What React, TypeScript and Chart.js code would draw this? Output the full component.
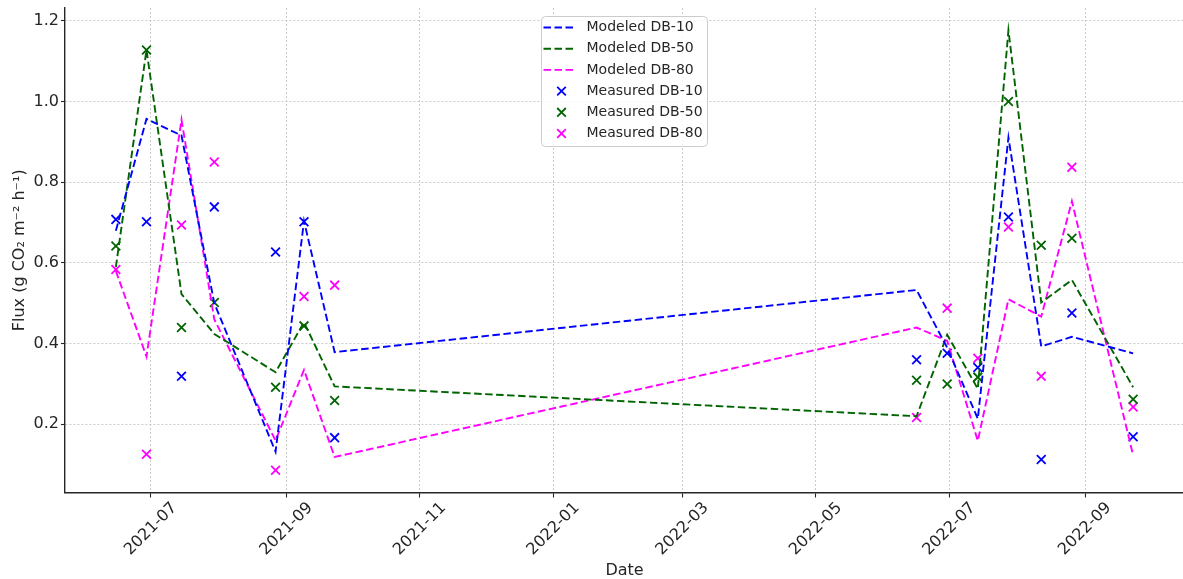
import React, { useEffect, useRef } from "react";
import { Chart, registerables } from "chart.js";

Chart.register(...registerables);

// Sampling campaigns (two summers)
const sampleDates = [
  "2021-06-15", "2021-06-29", "2021-07-15", "2021-07-30", "2021-08-27", "2021-09-09", "2021-09-23",
  "2022-06-16", "2022-06-30", "2022-07-14", "2022-07-28", "2022-08-12", "2022-08-26", "2022-09-23",
];

// Modeled fluxes (g CO2 m-2 h-1)
const modeledDB10 = [0.68, 0.957, 0.916, 0.5, 0.132, 0.704, 0.379, 0.533, 0.39, 0.214, 0.911, 0.393, 0.417, 0.376];
const modeledDB50 = [0.59, 1.128, 0.523, 0.424, 0.329, 0.453, 0.294, 0.22, 0.422, 0.288, 1.177, 0.502, 0.558, 0.292];
const modeledDB80 = [0.58, 0.368, 0.955, 0.46, 0.16, 0.335, 0.119, 0.44, 0.407, 0.159, 0.51, 0.467, 0.753, 0.123];

// Measured fluxes (g CO2 m-2 h-1)
const measuredDB10 = [0.708, 0.702, 0.319, 0.739, 0.627, 0.702, 0.167, 0.36, 0.376, 0.341, 0.714, 0.113, 0.476, 0.169];
const measuredDB50 = [0.642, 1.128, 0.44, 0.502, 0.292, 0.444, 0.259, 0.309, 0.3, 0.317, 1.0, 0.644, 0.661, 0.262];
const measuredDB80 = [0.584, 0.126, 0.694, 0.85, 0.086, 0.517, 0.545, 0.217, 0.488, 0.364, 0.689, 0.319, 0.837, 0.243];

// Axis ticks
const xTickLabels = ["2021-07", "2021-09", "2021-11", "2022-01", "2022-03", "2022-05", "2022-07", "2022-09"];
const yTickValues = [0.2, 0.4, 0.6, 0.8, 1.0, 1.2];

const FONT = "'DejaVu Sans', 'Liberation Sans', sans-serif";
const INK = "#262626";
const ORIGIN = Date.UTC(2021, 6, 1);

// Days since 2021-07-01
const dayOf = (s: string): number => {
  const [y, m, d] = s.split("-").map(Number);
  return (Date.UTC(y, m - 1, d || 1) - ORIGIN) / 86400000;
};

const xDays = sampleDates.map(dayOf);
const xSpan = Math.max(...xDays) - Math.min(...xDays);
const xMin = Math.min(...xDays) - 0.05 * xSpan;
const xMax = Math.max(...xDays) + 0.05 * xSpan;
const yMin = 0.031;
const yMax = 1.232;

const modeled = [
  { label: "Modeled DB-10", values: modeledDB10, color: "#0000ff" },
  { label: "Modeled DB-50", values: modeledDB50, color: "#006400" },
  { label: "Modeled DB-80", values: modeledDB80, color: "#ff00ff" },
];
const measured = [
  { label: "Measured DB-10", values: measuredDB10, color: "#0000ff" },
  { label: "Measured DB-50", values: measuredDB50, color: "#006400" },
  { label: "Measured DB-80", values: measuredDB80, color: "#ff00ff" },
];

const DASH = [7.5, 3.5];

// Rotated date labels, centred under each tick
const rotatedXLabels = {
  id: "rotatedXLabels",
  afterDraw(chart: any) {
    const xs = chart.scales.x;
    const ctx = chart.ctx as CanvasRenderingContext2D;
    const cy = chart.chartArea.bottom + 36.5;
    ctx.save();
    ctx.font = `16px ${FONT}`;
    ctx.fillStyle = INK;
    ctx.textAlign = "center";
    ctx.textBaseline = "middle";
    xTickLabels.forEach((l) => {
      const px = xs.getPixelForValue(dayOf(l + "-01"));
      ctx.save();
      ctx.translate(px, cy);
      ctx.rotate(-Math.PI / 4);
      ctx.fillText(l, 0, 0);
      ctx.restore();
    });
    ctx.restore();
  },
};

// Legend box at the upper centre of the plot
const legendBox = {
  id: "legendBox",
  afterDraw(chart: any) {
    const ctx = chart.ctx as CanvasRenderingContext2D;
    const area = chart.chartArea;
    const w = 166;
    const h = 130;
    const left = (area.left + area.right) / 2 - w / 2;
    const top = area.top + 8.5;
    ctx.save();
    ctx.beginPath();
    const r = 4;
    ctx.moveTo(left + r, top);
    ctx.lineTo(left + w - r, top);
    ctx.arcTo(left + w, top, left + w, top + r, r);
    ctx.lineTo(left + w, top + h - r);
    ctx.arcTo(left + w, top + h, left + w - r, top + h, r);
    ctx.lineTo(left + r, top + h);
    ctx.arcTo(left, top + h, left, top + h - r, r);
    ctx.lineTo(left, top + r);
    ctx.arcTo(left, top, left + r, top, r);
    ctx.closePath();
    ctx.fillStyle = "rgba(255,255,255,0.85)";
    ctx.fill();
    ctx.strokeStyle = "#cccccc";
    ctx.lineWidth = 1;
    ctx.stroke();

    const datasets = chart.data.datasets;
    ctx.font = `14px ${FONT}`;
    ctx.textBaseline = "middle";
    ctx.textAlign = "left";
    datasets.forEach((ds: any, i: number) => {
      const y = top + 11 + i * 21.2;
      if (ds.showLine !== false && ds.type === "line") {
        ctx.save();
        ctx.strokeStyle = ds.borderColor;
        ctx.lineWidth = ds.borderWidth;
        ctx.setLineDash(ds.borderDash);
        ctx.beginPath();
        ctx.moveTo(left + 2, y);
        ctx.lineTo(left + 34, y);
        ctx.stroke();
        ctx.restore();
      } else {
        const cx = left + 20;
        const s = 4.3;
        ctx.save();
        ctx.strokeStyle = ds.borderColor;
        ctx.lineWidth = ds.borderWidth;
        ctx.beginPath();
        ctx.moveTo(cx - s, y - s);
        ctx.lineTo(cx + s, y + s);
        ctx.moveTo(cx - s, y + s);
        ctx.lineTo(cx + s, y - s);
        ctx.stroke();
        ctx.restore();
      }
      ctx.fillStyle = INK;
      ctx.fillText(ds.label, left + 45, y);
    });
    ctx.restore();
  },
};

export default function App() {
  const canvasRef = useRef<HTMLCanvasElement | null>(null);

  useEffect(() => {
    if (!canvasRef.current) return;

    const lineSets = modeled.map((s) => ({
      type: "line" as const,
      label: s.label,
      data: xDays.map((x, i) => ({ x, y: s.values[i] })),
      borderColor: s.color,
      backgroundColor: s.color,
      borderWidth: 1.9,
      borderDash: DASH,
      pointRadius: 0,
      fill: false,
      tension: 0,
      showLine: true,
      order: 0,
    }));
    const pointSets = measured.map((s) => ({
      type: "scatter" as const,
      label: s.label,
      data: xDays.map((x, i) => ({ x, y: s.values[i] })),
      borderColor: s.color,
      backgroundColor: s.color,
      borderWidth: 1.8,
      pointStyle: "crossRot",
      pointRadius: 6.2,
      showLine: false,
      order: 1,
    }));

    const chart = new Chart(canvasRef.current, {
      type: "scatter",
      data: { datasets: [...lineSets, ...pointSets] as any },
      options: {
        responsive: false,
        animation: false,
        layout: { padding: { top: 6, right: 1, left: 0, bottom: 0 } },
        plugins: { legend: { display: false }, tooltip: { enabled: false } },
        scales: {
          x: {
            type: "linear",
            min: xMin,
            max: xMax,
            afterBuildTicks: (s: any) => {
              s.ticks = xTickLabels.map((l) => ({ value: dayOf(l + "-01") }));
            },
            afterFit: (s: any) => {
              s.height = 86.5;
            },
            ticks: { display: false },
            grid: {
              color: "#c4c4c4",
              lineWidth: 0.9,
              drawTicks: true,
              tickLength: 5,
              tickColor: INK,
              tickWidth: 1.1,
            },
            border: { display: true, color: INK, width: 1.4, dash: [2, 2] },
            title: {
              display: true,
              text: "Date",
              color: INK,
              font: { family: FONT, size: 16, lineHeight: 1 },
              padding: { top: 0, bottom: 0 },
            },
          },
          y: {
            type: "linear",
            min: yMin,
            max: yMax,
            afterBuildTicks: (s: any) => {
              s.ticks = yTickValues.map((v) => ({ value: v }));
            },
            afterFit: (s: any) => {
              s.width = 65;
            },
            ticks: {
              color: INK,
              font: { family: FONT, size: 16, lineHeight: 0.5 },
              padding: 2,
              callback: (v: any) => Number(v).toFixed(1),
            },
            grid: {
              color: "#c4c4c4",
              lineWidth: 0.9,
              drawTicks: true,
              tickLength: 4,
              tickColor: INK,
              tickWidth: 1.1,
            },
            border: { display: true, color: INK, width: 1.4, dash: [2, 2] },
            title: {
              display: true,
              text: "Flux (g CO₂ m⁻² h⁻¹)",
              color: INK,
              font: { family: FONT, size: 16, lineHeight: 1.2 },
              padding: { top: 10, bottom: 0 },
            },
          },
        },
      },
      plugins: [rotatedXLabels, legendBox],
    });

    return () => chart.destroy();
  }, []);

  return (
    <div
      style={{
        position: "fixed",
        left: 0,
        top: 0,
        width: 1183,
        height: 579,
        overflow: "hidden",
        background: "#ffffff",
      }}
    >
      <canvas ref={canvasRef} width={1192} height={579} style={{ display: "block" }} />
    </div>
  );
}
